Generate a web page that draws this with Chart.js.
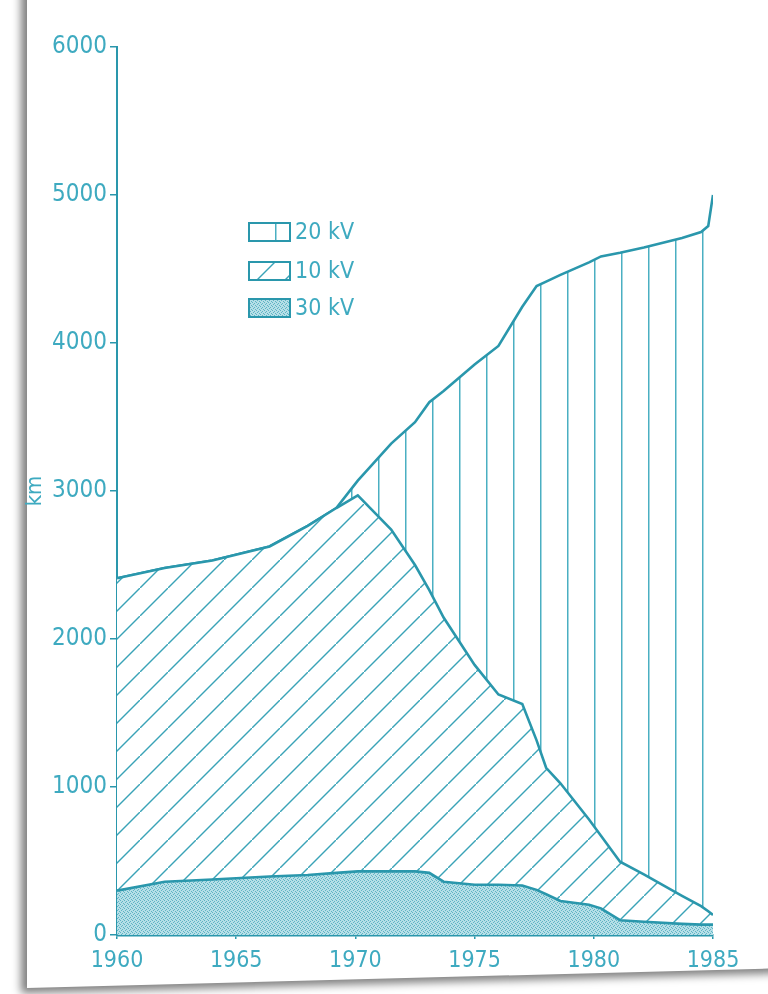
<!DOCTYPE html>
<html>
<head>
<meta charset="utf-8">
<script src="https://cdn.jsdelivr.net/npm/chart.js@4.4.1/dist/chart.umd.min.js"></script>
<style>
html, body { margin: 0; padding: 0; background: #fff; }
body { width: 768px; height: 994px; position: relative; overflow: hidden;
  font-family: 'Liberation Sans Narrow', 'DejaVu Sans Condensed', sans-serif; }
#page { position: absolute; left: 27px; top: -40px; width: 790px; height: 1028px; background: #fff;
  box-shadow: -6px 5px 9px rgba(0,0,0,0.5); transform: skewY(-1.5deg); transform-origin: 0 100%; }
#chart { position: absolute; left: 0; top: 0; }
.key { position: absolute; left: 248px; width: 120px; height: 20px; }
.key canvas { position: absolute; left: 0; top: 0; }
.key span { position: absolute; left: 47px; top: -4px; font-size: 23px; color: #3eaac0; white-space: nowrap; }
</style>
</head>
<body>
<div id="page"></div>
<canvas id="chart" width="768" height="994"></canvas>
<div class="key" style="top:222px"><canvas id="k20" width="43" height="20"></canvas><span>20 kV</span></div>
<div class="key" style="top:261px"><canvas id="k10" width="43" height="20"></canvas><span>10 kV</span></div>
<div class="key" style="top:298px"><canvas id="k30" width="43" height="20"></canvas><span>30 kV</span></div>
<script>
// years where the outlines bend
var years = [1960, 1962, 1964, 1966.4, 1968, 1969.2, 1970.1, 1971.5, 1972.5, 1973.1, 1973.7, 1975, 1976,
             1977, 1977.6, 1978, 1978.6, 1979.8, 1980.3, 1981.1, 1982.1, 1983.7, 1984.5, 1984.8, 1985];
// km of line per voltage, stacked 30 kV / 10 kV / 20 kV
var kv30 = [300, 360, 375, 395, 405, 420, 430, 430, 430, 420, 360, 340, 340,
            335, 305, 275, 230, 205, 180, 100, 90, 75, 70, 70, 70];
var kv10 = [2110, 2120, 2155, 2230, 2360, 2465, 2540, 2310, 2070, 1910, 1785, 1485, 1285,
            1225, 1010, 855, 795, 575, 490, 395, 320, 190, 125, 90, 65];
var kv20 = [0, 0, 0, 0, 0, 0, 100, 580, 965, 1270, 1530, 2030, 2355,
            2685, 3070, 3285, 3435, 3765, 3915, 4115, 4235, 4445, 4555, 4630, 4865];
var yTicks = [0, 1000, 2000, 3000, 4000, 5000, 6000];
var xTicks = [1960, 1965, 1970, 1975, 1980, 1985];

var teal = '#2a97ac';
var textTeal = '#3eaac0';
var fontFam = "'Liberation Sans Narrow', 'DejaVu Sans Condensed', sans-serif";

function tile(kind) {
	var c = document.createElement('canvas');
	var g = c.getContext('2d');
	if (kind == 'vertical') {
		c.width = 27; c.height = 10;
		g.fillStyle = '#fff'; g.fillRect(0, 0, 27, 10);
		g.strokeStyle = '#4aafc2'; g.lineWidth = 1.5;
		g.beginPath(); g.moveTo(0.75, 0); g.lineTo(0.75, 10); g.stroke();
	} else if (kind == 'diagonal') {
		c.width = 28; c.height = 28;
		g.fillStyle = '#fff'; g.fillRect(0, 0, 28, 28);
		g.strokeStyle = '#3aa3b7'; g.lineWidth = 1.4;
		g.beginPath();
		g.moveTo(-2, 30); g.lineTo(30, -2);
		g.stroke();
	} else {
		c.width = 4; c.height = 4;
		g.fillStyle = '#b6dfe7'; g.fillRect(0, 0, 4, 4);
		g.fillStyle = '#5fb3c4';
		g.fillRect(0, 0, 1, 1); g.fillRect(2, 1, 1, 1); g.fillRect(1, 2, 1, 1); g.fillRect(3, 3, 1, 1);
	}
	return c;
}

var ctx = document.getElementById('chart').getContext('2d');
var patVert = ctx.createPattern(tile('vertical'), 'repeat');
var patDiag = ctx.createPattern(tile('diagonal'), 'repeat');
var patDots = ctx.createPattern(tile('dots'), 'repeat');

function pts(vals) {
	var out = [];
	for (var i in years) out.push({x: years[i], y: vals[i]});
	return out;
}

function key(id, kind) {
	var g = document.getElementById(id).getContext('2d');
	g.fillStyle = g.createPattern(tile(kind), 'repeat');
	g.fillRect(1, 1, 41, 18);
	g.strokeStyle = teal; g.lineWidth = 2;
	g.strokeRect(1, 1, 41, 18);
}
key('k20', 'vertical');
key('k10', 'diagonal');
key('k30', 'dots');

var chart = new Chart(ctx, {
	type: 'line',
	data: {
		datasets: [
			{ label: '30 kV', data: pts(kv30), fill: 'origin', backgroundColor: patDots,
			  borderColor: teal, borderWidth: 2.6, pointRadius: 0, tension: 0 },
			{ label: '10 kV', data: pts(kv10), fill: '-1', backgroundColor: patDiag,
			  borderColor: teal, borderWidth: 2.6, pointRadius: 0, tension: 0 },
			{ label: '20 kV', data: pts(kv20), fill: '-1', backgroundColor: patVert,
			  borderColor: teal, borderWidth: 2.6, pointRadius: 0, tension: 0 }
		]
	},
	options: {
		responsive: false,
		animation: false,
		layout: { padding: { left: 0, top: 47, right: 55, bottom: 0 } },
		plugins: { legend: { display: false }, tooltip: { enabled: false } },
		scales: {
			x: {
				type: 'linear', min: 1960, max: 1985,
				afterFit: function(s) { s.height = 59; },
				afterBuildTicks: function(s) { s.ticks = xTicks.map(function(v) { return {value: v}; }); },
				grid: { drawOnChartArea: false, tickLength: 4, color: teal, lineWidth: 1.5 },
				border: { color: teal, width: 2.4 },
				ticks: { color: textTeal, padding: 8, maxRotation: 0, autoSkip: false,
					font: { family: fontFam, size: 23 },
					callback: function(v) { return String(v); } }
			},
			y: {
				stacked: true, min: 0, max: 6000,
				afterFit: function(s) { s.width = 117; },
				afterBuildTicks: function(s) { s.ticks = yTicks.map(function(v) { return {value: v}; }); },
				grid: { drawOnChartArea: false, tickLength: 7, color: teal, lineWidth: 1.5 },
				border: { color: teal, width: 2 },
				title: { display: true, text: 'km', color: textTeal, padding: { top: 22 },
					font: { family: fontFam, size: 22 } },
				ticks: { color: textTeal, padding: 3, font: { family: fontFam, size: 24 },
					callback: function(v) { return String(v); } }
			}
		}
	}
});
</script>
</body>
</html>
